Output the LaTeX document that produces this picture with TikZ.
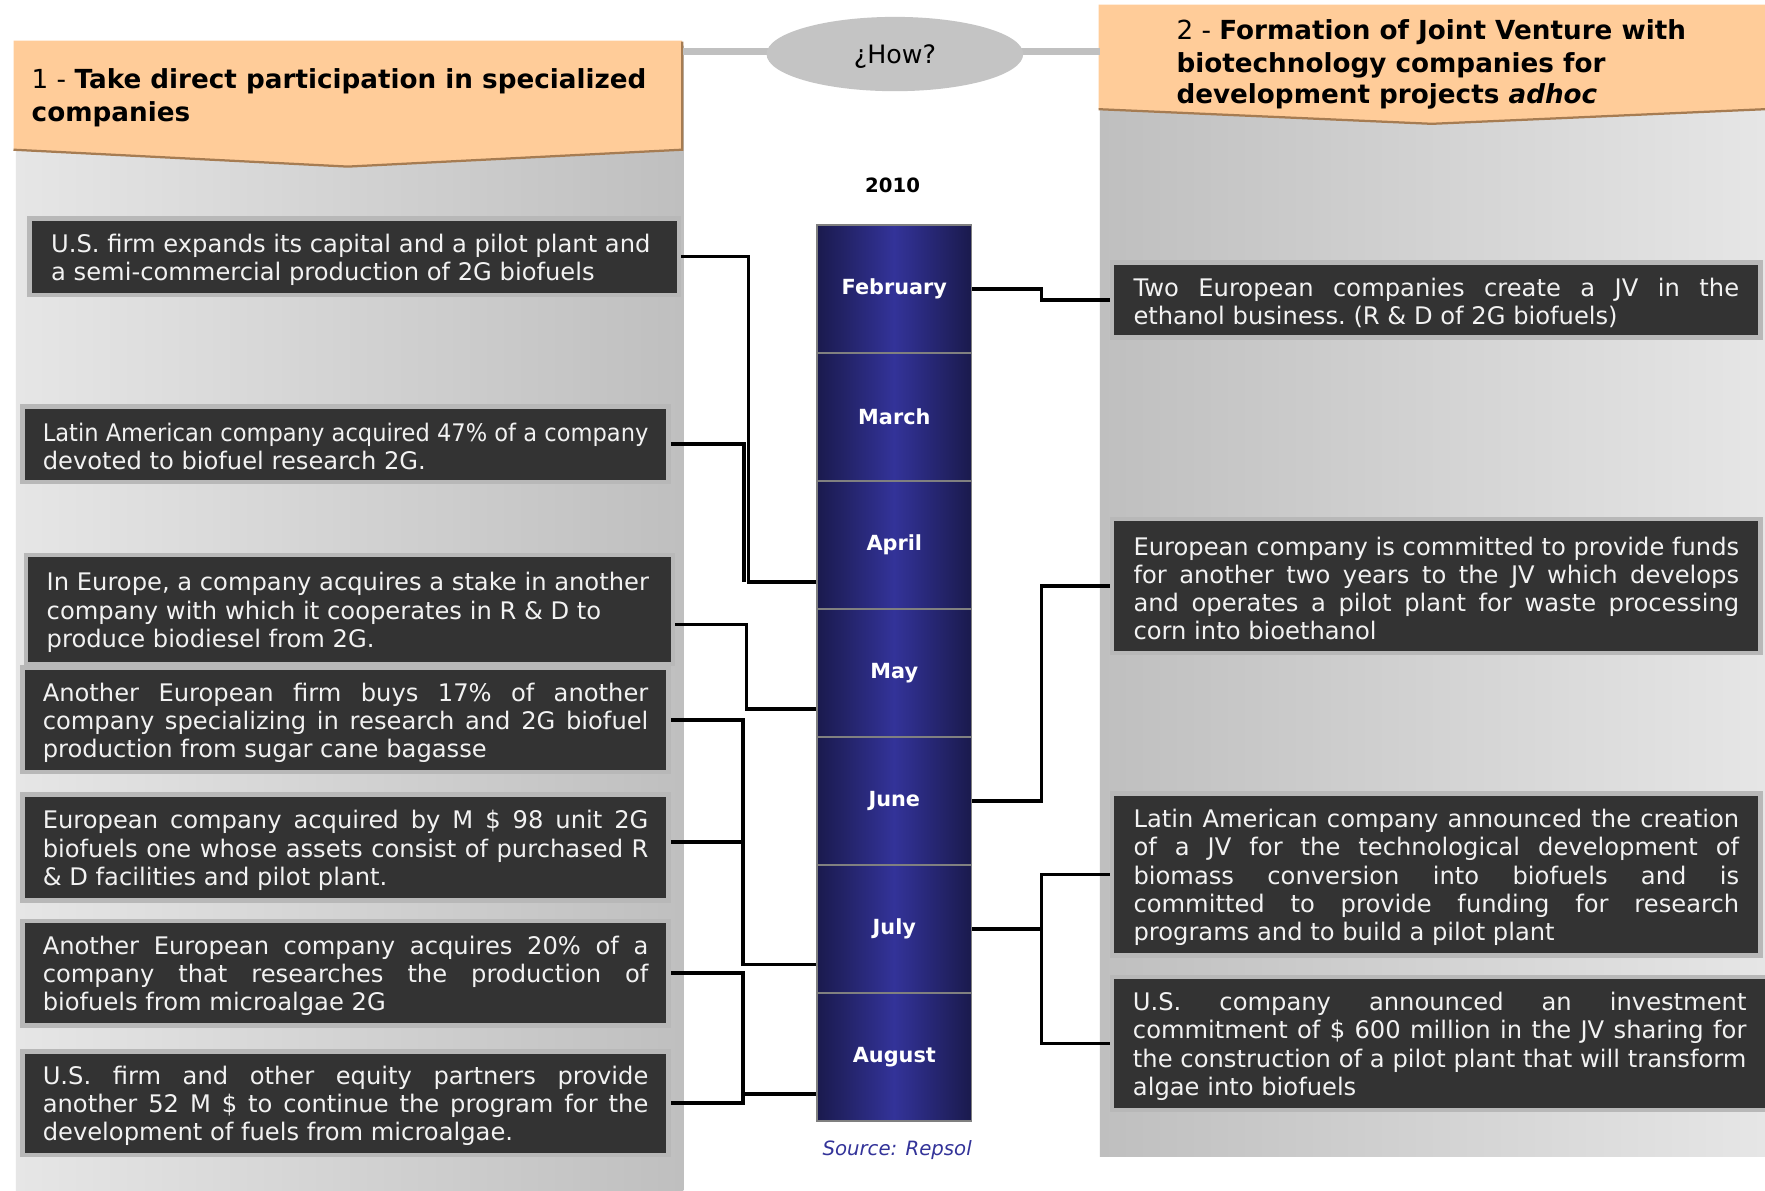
\documentclass[tikz,border=0pt]{standalone}
\usepackage{fontspec}
\usepackage{graphicx}
\setmainfont{DejaVu Sans}
\usetikzlibrary{shapes.geometric,calc}
\definecolor{peach}{HTML}{FFCC99}
\definecolor{peachedge}{HTML}{A67C52}
\definecolor{panelL}{HTML}{E6E6E6}
\definecolor{panelD}{HTML}{BFBFBF}
\definecolor{darkbox}{HTML}{333333}
\definecolor{boxframe}{HTML}{B8B8B8}
\definecolor{navyE}{HTML}{1A1A4D}
\definecolor{navyM}{HTML}{333399}
\definecolor{srcblue}{HTML}{333399}
\definecolor{linegray}{HTML}{C0C0C0}
\definecolor{ellgray}{HTML}{C4C4C4}
\definecolor{monthedge}{HTML}{808080}
\newlength\boxtw
\setlength\boxtw{538pt}
\newcommand{\jl}[1]{\setbox0=\hbox{#1}\ifdim\wd0>\boxtw\hbox{\resizebox{\boxtw}{\height}{#1}}\else\hbox to \boxtw{#1}\fi}
\newcommand{\el}[1]{\setbox0=\hbox{#1}\ifdim\wd0>\boxtw\hbox{\resizebox{\boxtw}{\height}{#1}}\else\box0\fi}
\newcommand{\tlines}[1]{\vbox{\spaceskip=0pt\xspaceskip=0pt\vskip5pt#1}}
\tikzset{
  evbox/.style={fill=darkbox, draw=boxframe, line width=4pt, text=white!95!black,
    font=\fontsize{21.5}{25}\selectfont\frenchspacing, align=left, text width=538pt, inner sep=0pt},
  monthbox/.style={draw=monthedge, line width=1.5pt, left color=navyE, right color=navyE,
    middle color=navyM, text=white, font=\fontsize{18.5}{20}\selectfont\bfseries,
    minimum width=137pt, minimum height=113.7pt, inner sep=0pt},
  conn/.style={draw=black, line width=3pt},
  hdrtext/.style={font=\fontsize{23.3}{29}\selectfont, anchor=base west, inner sep=0pt},
  topline/.style={draw=linegray, line width=6pt}
}
\begin{document}
\begin{tikzpicture}[x=1pt,y=-1pt]
\useasboundingbox (0,0) rectangle (1568,1058);
\fill[white] (0,0) rectangle (1568,1058);
% panels
\fill[left color=panelL, right color=panelD] (14,40) rectangle (607,1058);
\fill[left color=panelD, right color=panelL] (977,20) rectangle (1568,1027);
% headers
\fill[peach] (12,36) -- (606,36) -- (606,133) -- (309,148) -- (12,133) -- cycle;
\draw[peachedge, line width=2pt] (12,133) -- (309,148) -- (606,133) -- (606,37);
\fill[peach] (976,4) -- (1568,4) -- (1568,97) -- (1272,110) -- (976,97) -- cycle;
\draw[peachedge, line width=2pt] (976,97) -- (1272,110) -- (1568,97);
\node[hdrtext] (h1a) at (28,79) {1 - \textbf{Take direct participation in specialized}};
\node[hdrtext] (h1b) at (28,108) {\textbf{companies}};
\node[hdrtext] (h2a) at (1045,35) {2 - \textbf{Formation of Joint Venture with}};
\node[hdrtext] (h2b) at (1045,64) {\textbf{biotechnology companies for}};
\node[hdrtext] (h2c) at (1045,92) {\textbf{development projects \textit{adhoc}}};
% how
\coordinate (h1r) at (607,46);
\coordinate (h2l) at (977,46);
\draw[topline] (h1r) -- (h2l);
\node[ellipse, fill=ellgray, minimum width=228pt, minimum height=66pt, inner sep=0pt] (how) at (795,48) {};
\node[font=\fontsize{22.5}{27}\selectfont, anchor=base, inner sep=0pt] (howt) at (795,56) {¿How?};
\node[font=\fontsize{17.5}{20}\selectfont\bfseries] (yr) at (793,165) {2010};
% left boxes
\node[evbox, minimum width=577pt, minimum height=68pt] (b1) at (314.5,228)
  {\tlines{\el{U.S. firm expands its capital and a pilot plant and}\el{a semi-commercial production of 2G biofuels}}};
\node[evbox, minimum width=574pt, minimum height=67pt] (b2) at (307,394.5)
  {\tlines{\jl{Latin American company acquired 47\% of a company}\el{devoted to biofuel research 2G.}}};
\node[evbox, minimum width=575pt, minimum height=97pt] (b3) at (310.5,541.5)
  {\tlines{\el{In Europe, a company acquires a stake in another}\el{company with which it cooperates in R \& D to}\el{produce biodiesel from 2G.}}};
\node[evbox, minimum width=574pt, minimum height=93pt] (b4) at (307,639.5)
  {\tlines{\jl{Another European firm buys 17\% of another}\jl{company specializing in research and 2G biofuel}\el{production from sugar cane bagasse}}};
\node[evbox, minimum width=574pt, minimum height=94pt] (b5) at (307,753)
  {\tlines{\jl{European company acquired by M \$ 98 unit 2G}\jl{biofuels one whose assets consist of purchased R}\el{\& D facilities and pilot plant.}}};
\node[evbox, minimum width=574pt, minimum height=93pt] (b6) at (307,864.5)
  {\tlines{\jl{Another European company acquires 20\% of a}\jl{company that researches the production of}\el{biofuels from microalgae 2G}}};
\node[evbox, minimum width=574pt, minimum height=92pt] (b7) at (307,980)
  {\tlines{\jl{U.S. firm and other equity partners provide}\jl{another 52 M \$ to continue the program for the}\el{development of fuels from microalgae.}}};
% right boxes
\node[evbox, minimum width=576pt, minimum height=67pt] (r1) at (1276,266.5)
  {\tlines{\jl{Two European companies create a JV in the}\el{ethanol business. (R \& D of 2G biofuels)}}};
\node[evbox, minimum width=576pt, minimum height=119pt] (r2) at (1276,520.5)
  {\tlines{\jl{European company is committed to provide funds}\jl{for another two years to the JV which develops}\jl{and operates a pilot plant for waste processing}\el{corn into bioethanol}}};
\node[evbox, minimum width=576pt, minimum height=144pt] (r3) at (1276,777)
  {\tlines{\jl{Latin American company announced the creation}\jl{of a JV for the technological development of}\jl{biomass conversion into biofuels and is}\jl{committed to provide funding for research}\el{programs and to build a pilot plant}}};
\node[evbox, minimum width=582pt, minimum height=118pt, text width=545pt] (r4) at (1279,927)
  {\setlength\boxtw{545pt}\tlines{\jl{U.S. company announced an investment}\jl{commitment of \$ 600 million in the JV sharing for}\jl{the construction of a pilot plant that will transform}\el{algae into biofuels}}};
% months
\node[monthbox] (feb) at (794.5,256.86) {February};
\node[monthbox] (mar) at (794.5,370.57) {March};
\node[monthbox] (apr) at (794.5,484.29) {April};
\node[monthbox] (may) at (794.5,598.0) {May};
\node[monthbox] (jun) at (794.5,711.71) {June};
\node[monthbox] (jul) at (794.5,825.43) {July};
\node[monthbox] (aug) at (794.5,939.14) {August};
\node[font=\fontsize{17.5}{20}\selectfont\itshape, text=srcblue] (src) at (797,1022) {Source: Repsol};
% left connectors
\coordinate (jA) at (665,517);
\coordinate (jB) at (661,517);
\draw[conn] (b1.east) -| (jA) -- (jA -| apr.west);
\draw[conn] (b2.east) -| (jB);
\coordinate (b3c) at (663,555);
\coordinate (jC) at (663,630);
\draw[conn] (b3c -| b3.east) -- (b3c) -- (jC) -- (jC -| may.west);
\coordinate (jD) at (660,857);
\draw[conn] (b4.east) -| (jD) -- (jD -| jul.west);
\coordinate (b5c) at (660,748);
\draw[conn] (b5c -| b5.east) -- (b5c);
\coordinate (jE) at (660,972);
\draw[conn] (b6.east) -| (jE) -- (jE -| aug.west);
\draw[conn] (b7.east) -| (jE);
% right connectors
\coordinate (kF) at (925,266.5);
\draw[conn] (feb.east) -| (kF) -- (r1.west);
\coordinate (kJ) at (925,520.5);
\draw[conn] (r2.west) -- (kJ) |- (jun.east);
\coordinate (kU) at (925,777);
\draw[conn] (r3.west) -- (kU) |- (r4.west);
\draw[conn] (jul.east) -- (jul.east -| kU);
\end{tikzpicture}
\end{document}
